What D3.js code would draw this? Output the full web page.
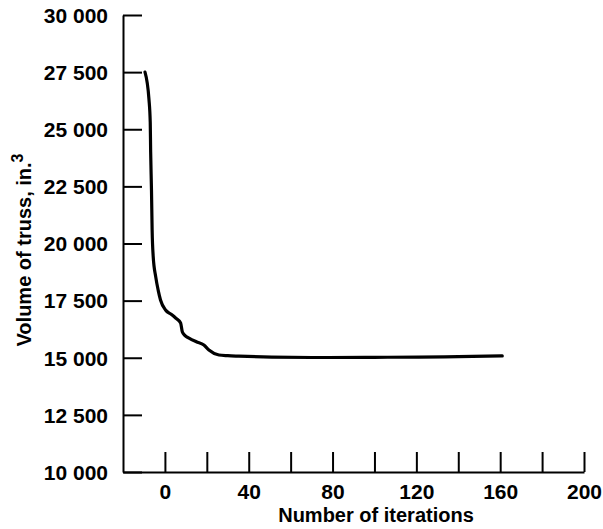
<!DOCTYPE html>
<html>
<head>
<meta charset="utf-8">
<script src="https://cdn.jsdelivr.net/npm/d3@7"></script>
<style>
  html, body { margin: 0; padding: 0; background: #fff; }
  svg text { font-family: "Liberation Sans", Arial, sans-serif; font-weight: bold; fill: #000; }
</style>
</head>
<body>
<svg id="chart" width="603" height="529"></svg>
<script>
// ── Truss volume vs. iteration count ──────────────────────────────────────
const iterations = [-9.5, -7.6, -7, -6.8, -6.4, -6.1, -5.6, -4.4, -3.2, -2.1, 0.3, 3, 5.1, 7.5, 8.3, 9.5, 11.5, 15, 18.6, 21, 25.8, 30, 35.3, 51, 78, 100, 121, 140, 161];
const volume     = [27500, 26300, 25300, 24000, 22300, 20600, 19450, 18550, 17950, 17530, 17090, 16900, 16740, 16520, 16140, 15980, 15860, 15700, 15560, 15340, 15120, 15090, 15070, 15030, 15010, 15020, 15030, 15050, 15080];

const xTicks      = [0, 20, 40, 60, 80, 100, 120, 140, 160, 180, 200];
const xTickLabels = [0, 40, 80, 120, 160, 200];
const yTicks      = [10000, 12500, 15000, 17500, 20000, 22500, 25000, 27500, 30000];

const svg = d3.select("#chart");

const x = d3.scaleLinear().domain([-20, 200]).range([123, 584]);
const y = d3.scaleLinear().domain([10000, 30000]).range([472, 15]);

const fmt = d3.formatLocale({ decimal: ".", thousands: " ", grouping: [3], currency: ["", ""] }).format(",d");

// x axis: ticks point up into the plot
const gx = svg.append("g")
  .attr("transform", `translate(0,${y(10000)})`)
  .call(d3.axisBottom(x)
    .tickValues(xTicks)
    .tickSizeInner(-20)
    .tickSizeOuter(0)
    .tickPadding(27)
    .tickFormat(d => xTickLabels.includes(d) ? d : ""));

// y axis: ticks point right
const gy = svg.append("g")
  .attr("transform", `translate(${x(-20)},0)`)
  .call(d3.axisLeft(y)
    .tickValues(yTicks)
    .tickSizeInner(-19)
    .tickSizeOuter(0)
    .tickPadding(15)
    .tickFormat(fmt));

[gx, gy].forEach(function (g) {
  g.select(".domain").attr("stroke", "#000").attr("stroke-width", 2);
  g.selectAll(".tick line").attr("stroke", "#000").attr("stroke-width", 2);
  g.selectAll(".tick text").attr("font-size", 21).attr("fill", "#000");
});
gx.selectAll(".tick text").attr("dy", 0);
gy.selectAll(".tick text").attr("dy", "0.35em");

// data line
const line = d3.line()
  .x((d, i) => x(iterations[i]))
  .y(d => y(d))
  .curve(d3.curveMonotoneX);

svg.append("path")
  .datum(volume)
  .attr("d", line)
  .attr("fill", "none")
  .attr("stroke", "#000")
  .attr("stroke-width", 3.2)
  .attr("stroke-linejoin", "round")
  .attr("stroke-linecap", "round");

// axis titles
svg.append("text")
  .attr("x", 376)
  .attr("y", 522)
  .attr("text-anchor", "middle")
  .attr("font-size", 20)
  .text("Number of iterations");

const yl = svg.append("text")
  .attr("transform", "translate(31,250) rotate(-90)")
  .attr("text-anchor", "middle")
  .attr("font-size", 20);
yl.append("tspan").text("Volume of truss, in.");
yl.append("tspan").attr("dy", -8).attr("font-size", 16).text("3");
</script>
</body>
</html>
